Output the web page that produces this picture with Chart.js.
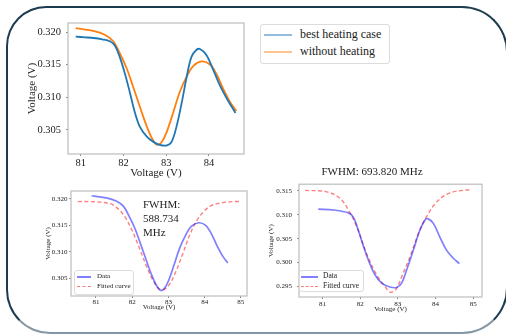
<!DOCTYPE html>
<html>
<head>
<meta charset="utf-8">
<script src="https://cdn.jsdelivr.net/npm/chart.js@4"></script>
<style>
  html, body { margin: 0; padding: 0; background: #fff; }
  body { width: 506px; height: 335px; position: relative; overflow: hidden; font-family: "Liberation Serif", serif; color: #222; }
  canvas { position: absolute; }
  .frame {
    position: absolute; left: 6px; top: 6px; width: 502px; height: 328px;
    box-sizing: border-box; border: 2px solid #1d3b4f; border-bottom-color: #8497a5;
    border-radius: 40px 46px 46px 44px;
  }
  .legend { position: absolute; background: #fff; border: 1px solid #dcdcdc; border-radius: 3px; }
  .row { position: absolute; white-space: nowrap; }
  .swatch { position: absolute; height: 2px; }
  .dash { position: absolute; height: 0; }
  .note { position: absolute; font-size: 11px; line-height: 14px; }
</style>
</head>
<body>
<div class="frame"></div>

<canvas id="top" width="250" height="175" style="left:10px;top:10px"></canvas>
<canvas id="fitA" width="225" height="130" style="left:30px;top:185px"></canvas>
<canvas id="fitB" width="240" height="160" style="left:262px;top:160px"></canvas>

<div class="legend" style="left:260px;top:24px;width:128px;height:38px;">
  <div class="swatch" style="left:3px;top:9px;width:28px;background:#94bbe0"></div>
  <div class="row" style="left:39px;top:2px;font-size:12px;">best heating case</div>
  <div class="swatch" style="left:3px;top:26px;width:28px;background:#ffc392"></div>
  <div class="row" style="left:39px;top:19px;font-size:12px;">without heating</div>
</div>

<div class="note" style="left:143px;top:197px;">FWHM:<br>588.734<br>MHz</div>

<div class="legend" style="left:74px;top:270px;width:58px;height:23px;">
  <div class="swatch" style="left:2px;top:5px;width:14px;background:rgba(0,0,255,0.5)"></div>
  <div class="row" style="left:22px;top:1px;font-size:7px;">Data</div>
  <div class="dash" style="left:2px;top:15px;width:14px;border-top:1.5px dashed rgba(255,0,0,0.5)"></div>
  <div class="row" style="left:22px;top:11px;font-size:7px;">Fitted curve</div>
</div>

<div class="legend" style="left:299px;top:270px;width:63px;height:20px;">
  <div class="swatch" style="left:1px;top:5px;width:17px;background:rgba(0,0,255,0.5)"></div>
  <div class="row" style="left:23px;top:0px;font-size:7.5px;">Data</div>
  <div class="dash" style="left:1px;top:15px;width:17px;border-top:1.5px dashed rgba(255,0,0,0.5)"></div>
  <div class="row" style="left:23px;top:10px;font-size:7.5px;">Fitted curve</div>
</div>

<script>
// best heating case (top plot, blue)
const heatX = [80.88, 81.1, 81.3, 81.5, 81.68, 81.8, 81.91, 82.03, 82.15, 82.26, 82.38, 82.54, 82.69, 82.85, 83.0, 83.12, 83.24, 83.36, 83.48, 83.59, 83.71, 83.79, 83.94, 84.1, 84.25, 84.41, 84.62];
const heatY = [0.3193, 0.3192, 0.3191, 0.3189, 0.3186, 0.3179, 0.3162, 0.3137, 0.3107, 0.3078, 0.3055, 0.3040, 0.3032, 0.3027, 0.3026, 0.3031, 0.3055, 0.3091, 0.3132, 0.3162, 0.3173, 0.3174, 0.3165, 0.3142, 0.3119, 0.3099, 0.3076];

// without heating (top plot orange, also the "Data" of the lower left fit)
const coldX = [80.88, 81.1, 81.29, 81.56, 81.76, 81.91, 82.07, 82.22, 82.38, 82.54, 82.69, 82.79, 82.89, 83.0, 83.16, 83.31, 83.48, 83.63, 83.83, 84.03, 84.18, 84.34, 84.5, 84.64];
const coldY = [0.3206, 0.3204, 0.3202, 0.3196, 0.3186, 0.3168, 0.3145, 0.3117, 0.3086, 0.3056, 0.3034, 0.3027, 0.3031, 0.3045, 0.3076, 0.3107, 0.3132, 0.3148, 0.3155, 0.3150, 0.3135, 0.3112, 0.3092, 0.3079];

// fitted curve, lower left
const fitAX = [80.5, 80.8, 81.1, 81.4, 81.6, 81.8, 82.0, 82.2, 82.4, 82.6, 82.8, 83.0, 83.2, 83.4, 83.6, 83.8, 84.0, 84.2, 84.5, 84.8, 85.0];
const fitAY = [0.3195, 0.3195, 0.3194, 0.3191, 0.3182, 0.3166, 0.3140, 0.3107, 0.3072, 0.3043, 0.3028, 0.3036, 0.3062, 0.3097, 0.3134, 0.3161, 0.3178, 0.3188, 0.3193, 0.3195, 0.3195];

// lower right: data and fitted curve
const dataBX = [80.89, 81.29, 81.69, 81.82, 81.95, 82.08, 82.22, 82.39, 82.57, 82.79, 82.97, 83.1, 83.23, 83.41, 83.58, 83.72, 83.79, 83.94, 84.11, 84.29, 84.47, 84.63];
const dataBY = [0.3112, 0.3110, 0.3104, 0.3095, 0.3068, 0.3036, 0.3005, 0.2975, 0.2957, 0.2949, 0.2948, 0.2957, 0.2984, 0.3026, 0.3067, 0.3089, 0.3092, 0.3082, 0.3054, 0.3026, 0.3009, 0.2998];
const fitBX = [80.54, 81.12, 81.47, 81.69, 81.91, 82.17, 82.44, 82.66, 82.8, 82.95, 83.1, 83.32, 83.58, 83.76, 84.03, 84.38, 84.95];
const fitBY = [0.3151, 0.3148, 0.3134, 0.3110, 0.3075, 0.3019, 0.2974, 0.2950, 0.2938, 0.2944, 0.2970, 0.3012, 0.3068, 0.3096, 0.3127, 0.3146, 0.3153];

// ticks
const xTicksTop = [81, 82, 83, 84];
const xTicksFit = [81, 82, 83, 84, 85];
const yTicksTop = [0.305, 0.310, 0.315, 0.320];
const yTicksB = [0.295, 0.300, 0.305, 0.310, 0.315];

const ink = "#222";
const serif = "'Liberation Serif', serif";

const pts = (xs, ys) => xs.map((x, i) => ({ x, y: ys[i] }));

const framePlugin = {
  id: "frame",
  afterDraw(chart) {
    const { ctx, chartArea: a } = chart;
    ctx.save();
    ctx.strokeStyle = "#bdbdbd";
    ctx.lineWidth = 1.2;
    ctx.strokeRect(a.left, a.top, a.right - a.left, a.bottom - a.top);
    ctx.restore();
  },
};

function axis(o) {
  const horiz = o.pos === "x";
  return {
    type: "linear",
    min: o.min,
    max: o.max,
    afterBuildTicks(scale) {
      scale.ticks = o.ticks.map((v) => ({ value: v }));
    },
    afterFit(scale) {
      if (horiz) scale.height = o.size;
      else scale.width = o.size;
    },
    grid: { drawOnChartArea: false, drawTicks: true, tickLength: o.tickLen, color: "#888" },
    border: { display: false },
    ticks: {
      padding: o.pad,
      autoSkip: false,
      maxRotation: 0,
      color: ink,
      font: { family: serif, size: o.tickFont },
      callback: (v) => (horiz ? String(v) : v.toFixed(3)),
    },
    title: {
      display: true,
      text: "Voltage (V)",
      color: ink,
      font: { family: serif, size: o.titleFont },
      padding: o.titlePad,
    },
  };
}

function line(data, color, width, dash) {
  return {
    data,
    borderColor: color,
    borderWidth: width,
    borderDash: dash || [],
    pointRadius: 0,
    tension: 0.35,
    fill: false,
  };
}

const base = {
  responsive: false,
  animation: false,
  devicePixelRatio: 1,
  plugins: { legend: { display: false }, tooltip: { enabled: false } },
};

new Chart(document.getElementById("top"), {
  type: "line",
  data: {
    datasets: [
      line(pts(heatX, heatY), "#1f77b4", 1.8),
      line(pts(coldX, coldY), "#ff7f0e", 1.8),
    ],
  },
  options: {
    ...base,
    layout: { padding: { top: 13, right: 16, left: 0, bottom: 0 } },
    scales: {
      x: axis({ pos: "x", min: 80.7, max: 84.82, ticks: xTicksTop, size: 31, tickLen: 2, pad: 1, tickFont: 10.5, titleFont: 11, titlePad: { top: 0, bottom: 5 } }),
      y: axis({ pos: "y", min: 0.3013, max: 0.3214, ticks: yTicksTop, size: 58, tickLen: 2, pad: 5, tickFont: 10.5, titleFont: 11, titlePad: { top: 16, bottom: 0 } }),
    },
  },
  plugins: [framePlugin],
});

new Chart(document.getElementById("fitA"), {
  type: "line",
  data: {
    datasets: [
      line(pts(coldX, coldY), "rgba(0,0,255,0.5)", 1.7),
      line(pts(fitAX, fitAY), "rgba(255,0,0,0.5)", 1.4, [4, 2.5]),
    ],
  },
  options: {
    ...base,
    layout: { padding: { top: 6, right: 8, left: 0, bottom: 0 } },
    scales: {
      x: axis({ pos: "x", min: 80.31, max: 85.17, ticks: xTicksFit, size: 19, tickLen: 2, pad: 0, tickFont: 7, titleFont: 7, titlePad: { top: 0, bottom: 4 } }),
      y: axis({ pos: "y", min: 0.30166, max: 0.3215, ticks: yTicksTop, size: 41, tickLen: 2, pad: 1.5, tickFont: 7, titleFont: 7, titlePad: { top: 14, bottom: 0 } }),
    },
  },
  plugins: [framePlugin],
});

new Chart(document.getElementById("fitB"), {
  type: "line",
  data: {
    datasets: [
      line(pts(dataBX, dataBY), "rgba(0,0,255,0.5)", 1.7),
      line(pts(fitBX, fitBY), "rgba(255,0,0,0.5)", 1.4, [4, 2.5]),
    ],
  },
  options: {
    ...base,
    layout: { padding: { top: 0, right: 20, left: 0, bottom: 0 } },
    plugins: {
      ...base.plugins,
      title: {
        display: true,
        text: "FWHM: 693.820 MHz",
        color: ink,
        font: { family: serif, size: 11, weight: "normal" },
        padding: { top: 6, bottom: 5 },
      },
    },
    scales: {
      x: axis({ pos: "x", min: 80.38, max: 85.23, ticks: xTicksFit, size: 23, tickLen: 2, pad: 1, tickFont: 7, titleFont: 7, titlePad: { top: 0, bottom: 7 } }),
      y: axis({ pos: "y", min: 0.2928, max: 0.3164, ticks: yTicksB, size: 37, tickLen: 2, pad: 5, tickFont: 7, titleFont: 7, titlePad: { top: 5, bottom: 0 } }),
    },
  },
  plugins: [framePlugin],
});
</script>
</body>
</html>
